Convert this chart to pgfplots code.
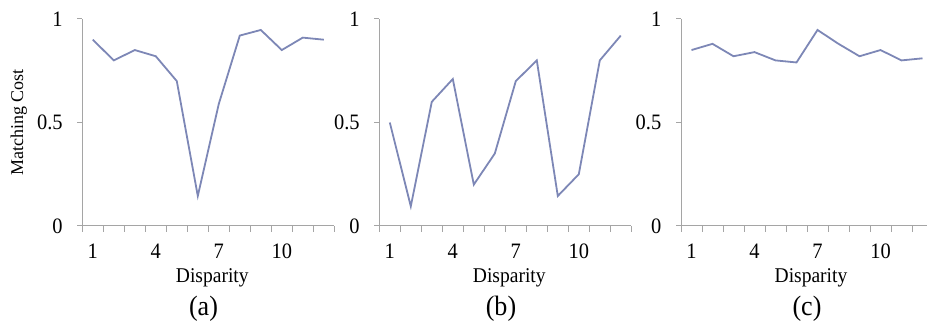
\documentclass[border=0pt]{standalone}
\usepackage{fontspec}
\setmainfont{Liberation Serif}[FakeStretch=0.93]
\newfontfamily\plainserif{Liberation Serif}
\usepackage{pgfplots}
\pgfplotsset{compat=1.18}
\definecolor{linec}{RGB}{125,135,182}
\definecolor{axc}{RGB}{165,165,165}
\pgfplotsset{panel/.style={
  scale only axis, width=252pt, height=207pt,
  xmin=0.5, xmax=12.5, ymin=0, ymax=1,
  axis x line*=bottom, axis y line*=left,
  axis line style={axc, line width=1pt, -},
  xtick={1,4,7,10}, ytick={0,0.5,1},
  minor xtick={0.5,1.5,...,12.5},
  tick align=outside,
  major tick length=5pt, minor tick length=6pt,
  major x tick style={draw=none},
  minor x tick style={axc, line width=1pt},
  major y tick style={axc, line width=1pt},
  /pgf/number format/assume math mode=true,
  yticklabel style={font=\fontsize{22}{22}\selectfont, anchor=east, inner sep=0pt, xshift=-14.5pt},
  xticklabel style={font=\fontsize{22}{22}\selectfont, anchor=center, inner sep=0pt, yshift=-20.5pt},
  xlabel={Disparity},
  xlabel style={font=\fontsize{21}{21}\selectfont, at={(axis description cs:0.5,0)}, anchor=center, inner sep=0pt, yshift=-52pt, xshift=4pt},
  clip=false,
}}
\begin{document}
\begin{tikzpicture}
\clip (0pt,0pt) rectangle (927pt,323pt);
\begin{axis}[panel, at={(82.3pt,97pt)}, anchor=south west,
  ylabel={Matching Cost},
  every axis y label/.style={at={(axis description cs:0,0.5)}, xshift=-63.5pt, rotate=90, anchor=center, inner sep=0pt, font=\plainserif\fontsize{18}{18}\selectfont}]
\addplot[linec, line width=1.8pt] coordinates {
 (1,0.90) (2,0.80) (3,0.85) (4,0.82) (5,0.70) (6,0.145)
 (7,0.59) (8,0.92) (9,0.947) (10,0.85) (11,0.91) (12,0.90)};
\end{axis}
\begin{axis}[panel, at={(379.3pt,97pt)}, anchor=south west]
\addplot[linec, line width=1.8pt] coordinates {
 (1,0.50) (2,0.095) (3,0.60) (4,0.71) (5,0.20) (6,0.35)
 (7,0.70) (8,0.80) (9,0.145) (10,0.25) (11,0.80) (12,0.92)};
\end{axis}
\begin{axis}[panel, at={(681pt,97pt)}, anchor=south west]
\addplot[linec, line width=1.8pt] coordinates {
 (1,0.85) (2,0.88) (3,0.82) (4,0.84) (5,0.80) (6,0.79)
 (7,0.947) (8,0.88) (9,0.82) (10,0.85) (11,0.80) (12,0.81)};
\end{axis}
\node[font=\fontsize{28}{28}\selectfont, inner sep=0pt] at (203.5pt,14pt) {(a)};
\node[font=\fontsize{28}{28}\selectfont, inner sep=0pt] at (501pt,14pt) {(b)};
\node[font=\fontsize{28}{28}\selectfont, inner sep=0pt] at (807pt,14pt) {(c)};
\end{tikzpicture}
\end{document}
